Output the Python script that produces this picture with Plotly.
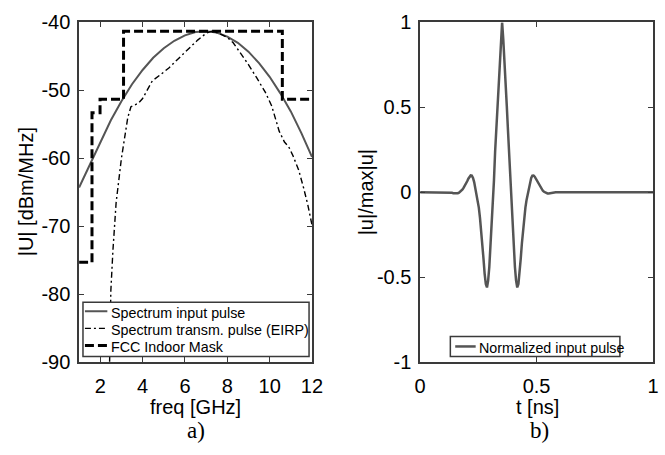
import plotly.graph_objects as go

# ---------------- data ----------------
# a) spectra
FREQ = [1.0, 1.5, 2.0, 2.5, 3.0, 3.5, 4.0, 4.5, 5.0, 5.5, 6.0, 6.5, 7.0,
        7.5, 8.0, 8.5, 9.0, 9.5, 10.0, 10.5, 11.0, 11.5, 12.0]
SPEC_INPUT = [-64.3, -61.0, -57.6, -54.4, -51.6, -49.1, -47.0, -45.2, -43.8,
              -42.7, -41.9, -41.4, -41.3, -41.5, -42.1, -43.0, -44.3, -46.0,
              -48.0, -50.4, -53.1, -56.3, -59.8]

EIRP_F = [2.43, 2.5, 2.6, 2.75, 3.0, 3.15, 3.3, 3.45, 3.6, 3.8, 4.0, 4.2, 4.46,
          4.8, 5.24, 5.7, 6.15, 6.6, 7.0, 7.25, 7.6, 8.0, 8.28, 8.6, 9.0, 9.38,
          9.8, 10.1, 10.3, 10.45, 10.7, 10.9, 11.1, 11.37, 11.6, 11.8, 12.0]
EIRP_DB = [-92.0, -79.5, -73.5, -66.5, -60.0, -57.0, -54.0, -52.4, -52.2, -51.9,
           -51.2, -50.0, -48.6, -47.8, -46.7, -45.3, -43.9, -42.6, -41.6, -41.3,
           -41.6, -42.2, -43.0, -44.4, -46.2, -48.1, -50.3, -52.3, -54.5, -56.0,
           -57.6, -58.3, -59.6, -61.7, -64.3, -66.8, -69.8]

MASK_F = [1.0, 1.61, 1.61, 1.99, 1.99, 3.1, 3.1, 10.6, 10.6, 12.0]
MASK_DB = [-75.3, -75.3, -53.3, -53.3, -51.3, -51.3, -41.3, -41.3, -51.3, -51.3]

# b) normalized pulse
PULSE_T = [0.0,
           0.122, 0.127, 0.132, 0.137, 0.142, 0.147, 0.152, 0.157, 0.162, 0.167,
           0.172, 0.177, 0.182, 0.187, 0.192, 0.197, 0.202, 0.207, 0.212, 0.217,
           0.222, 0.227, 0.232, 0.237, 0.242, 0.247, 0.252, 0.257, 0.262, 0.267,
           0.272, 0.277, 0.282, 0.287, 0.292, 0.297, 0.302, 0.307, 0.312, 0.317,
           0.322, 0.327, 0.332, 0.337, 0.342, 0.347, 0.352,
           0.357, 0.362, 0.367, 0.372, 0.377, 0.382, 0.387, 0.392, 0.397, 0.402,
           0.407, 0.412, 0.417, 0.422, 0.427, 0.432, 0.437, 0.442, 0.447, 0.452,
           0.457, 0.462, 0.467, 0.472, 0.477, 0.482, 0.487, 0.492, 0.497, 0.502,
           0.507, 0.512, 0.517, 0.522, 0.527, 0.532, 0.537, 0.542, 0.547, 0.552,
           0.557, 0.562, 0.567, 0.572, 0.577, 0.582,
           1.0]
PULSE_U = [0.0,
           0.0, -0.001, -0.002, -0.003, -0.005, -0.006, -0.007, -0.007, -0.005, -0.002,
           0.003, 0.009, 0.017, 0.027, 0.038, 0.05, 0.065, 0.08, 0.092, 0.099,
           0.098, 0.085, 0.06, 0.025, -0.012, -0.045, -0.09, -0.15, -0.22, -0.30,
           -0.39, -0.48, -0.54, -0.56, -0.52, -0.44, -0.33, -0.22, -0.10, 0.07,
           0.24, 0.37, 0.51, 0.65, 0.79, 0.90, 1.0,
           0.90, 0.79, 0.65, 0.51, 0.37, 0.24, 0.07, -0.10, -0.22, -0.33,
           -0.44, -0.52, -0.56, -0.54, -0.48, -0.39, -0.30, -0.22, -0.15, -0.09,
           -0.045, -0.012, 0.025, 0.06, 0.085, 0.098, 0.099, 0.092, 0.08, 0.065,
           0.05, 0.038, 0.027, 0.017, 0.009, 0.003, -0.002, -0.005, -0.007, -0.007,
           -0.006, -0.005, -0.003, -0.002, -0.001, 0.0,
           0.0]

X1_TICKS = [2, 4, 6, 8, 10, 12]
Y1_TICKS = [-90, -80, -70, -60, -50, -40]
Y1_TEXT = ["-90", "-80", "-70", "-60", "-50", "-40"]
X2_TICKS = [0, 0.5, 1]
X2_TEXT = ["0", "0.5", "1"]
Y2_TICKS = [-1, -0.5, 0, 0.5, 1]
Y2_TEXT = ["-1", "-0.5", "0", "0.5", "1"]

LEGEND1_NAMES = ["Spectrum input pulse", "Spectrum transm. pulse (EIRP)", "FCC Indoor Mask"]
LEGEND2_NAMES = ["Normalized input pulse"]

# ---------------- figure ----------------
W, H = 665, 455
SANS = "Liberation Sans, Arial, sans-serif"
SERIF = "Liberation Serif, Times New Roman, serif"
AXC = "#3a3a3a"
GRAY = "#555555"

STYLE_INPUT = dict(color=GRAY, width=2)
STYLE_EIRP = dict(color="black", width=1.4, dash="6px,3px,2px,3px")
STYLE_MASK = dict(color="black", width=3, dash="9px,4px")
STYLE_PULSE = dict(color=GRAY, width=2.5)

fig = go.Figure()

fig.add_trace(go.Scatter(x=FREQ, y=SPEC_INPUT, mode="lines", name=LEGEND1_NAMES[0],
                         line=STYLE_INPUT, xaxis="x", yaxis="y", showlegend=False))
fig.add_trace(go.Scatter(x=EIRP_F, y=EIRP_DB, mode="lines", name=LEGEND1_NAMES[1],
                         line=STYLE_EIRP, xaxis="x", yaxis="y", showlegend=False))
fig.add_trace(go.Scatter(x=MASK_F, y=MASK_DB, mode="lines", name=LEGEND1_NAMES[2],
                         line=STYLE_MASK, xaxis="x", yaxis="y", showlegend=False))
fig.add_trace(go.Scatter(x=PULSE_T, y=PULSE_U, mode="lines", name=LEGEND2_NAMES[0],
                         line=STYLE_PULSE, xaxis="x2", yaxis="y2", showlegend=False))


def px_x(p):
    return p / W


def px_y(p):
    return 1 - p / H


axis_common = dict(showline=True, linecolor=AXC, linewidth=1.5, mirror="ticks",
                   ticks="inside", ticklen=5, tickwidth=1.2, tickcolor=AXC,
                   showgrid=False, zeroline=False,
                   tickfont=dict(family=SANS, size=20, color="black"))

fig.update_layout(
    width=W, height=H,
    margin=dict(l=0, r=0, t=0, b=0),
    paper_bgcolor="white", plot_bgcolor="white",
    showlegend=False,
    xaxis=dict(domain=[px_x(75), px_x(314)], range=[1, 12], tickvals=X1_TICKS,
               anchor="y", ticklabelstandoff=5, **axis_common),
    yaxis=dict(domain=[px_y(369), px_y(12)], range=[-90, -40], tickvals=Y1_TICKS,
               ticktext=Y1_TEXT, anchor="x", ticklabelstandoff=3, **axis_common),
    xaxis2=dict(domain=[px_x(425), px_x(664)], range=[0, 1], tickvals=X2_TICKS,
                ticktext=X2_TEXT, anchor="y2", ticklabelstandoff=5, **axis_common),
    yaxis2=dict(domain=[px_y(369), px_y(12)], range=[-1, 1], tickvals=Y2_TICKS,
                ticktext=Y2_TEXT, anchor="x2", ticklabelstandoff=3, **axis_common),
)

shapes = []
annotations = []
DY = 4  # glyph-centre correction for annotations
DY_LEG = 1.5


def text_ann(text, x, y, size, family=SANS, angle=0, xanchor="center"):
    annotations.append(dict(text=text, x=px_x(x), y=px_y(y), xref="paper", yref="paper",
                            showarrow=False, xanchor=xanchor, yanchor="middle",
                            textangle=angle, borderpad=0,
                            font=dict(family=family, size=size, color="black")))


def legend_box(x0, y0, x1, y1):
    shapes.append(dict(type="rect", xref="paper", yref="paper",
                       x0=px_x(x0), x1=px_x(x1), y0=px_y(y1), y1=px_y(y0),
                       line=dict(color=AXC, width=1.5), fillcolor="white",
                       layer="above"))


def legend_sample(x0, x1, y, style):
    shapes.append(dict(type="line", xref="paper", yref="paper",
                       x0=px_x(x0), x1=px_x(x1), y0=px_y(y), y1=px_y(y),
                       line=style, layer="above"))


# legend a)
legend_box(79, 306, 311, 363)
for name, style, yc in zip(LEGEND1_NAMES, [STYLE_INPUT, STYLE_EIRP, STYLE_MASK],
                           [315.5, 333.5, 351.5]):
    legend_sample(81, 104, yc, style)
    text_ann(name, 107, yc + DY_LEG, 14.3, xanchor="left")

# legend b)
legend_box(456, 342, 630, 363)
legend_sample(461, 482, 352.5, STYLE_PULSE)
text_ann(LEGEND2_NAMES[0], 484, 352.5 + DY_LEG, 14.3, xanchor="left")

# axis titles and panel labels
text_ann("freq [GHz]", 194, 412 + DY, 20)
text_ann("t [ns]", 545, 412 + DY, 20)
text_ann("|U| [dBm/MHz]", 20, 190, 20, angle=-90)
text_ann("|u|/max|u|", 369, 191, 20, angle=-90)
text_ann("a)", 195, 437 + DY, 23, family=SERIF)
text_ann("b)", 547, 437 + DY, 23, family=SERIF)

fig.update_layout(shapes=shapes, annotations=annotations)

fig.write_html("out.html")
